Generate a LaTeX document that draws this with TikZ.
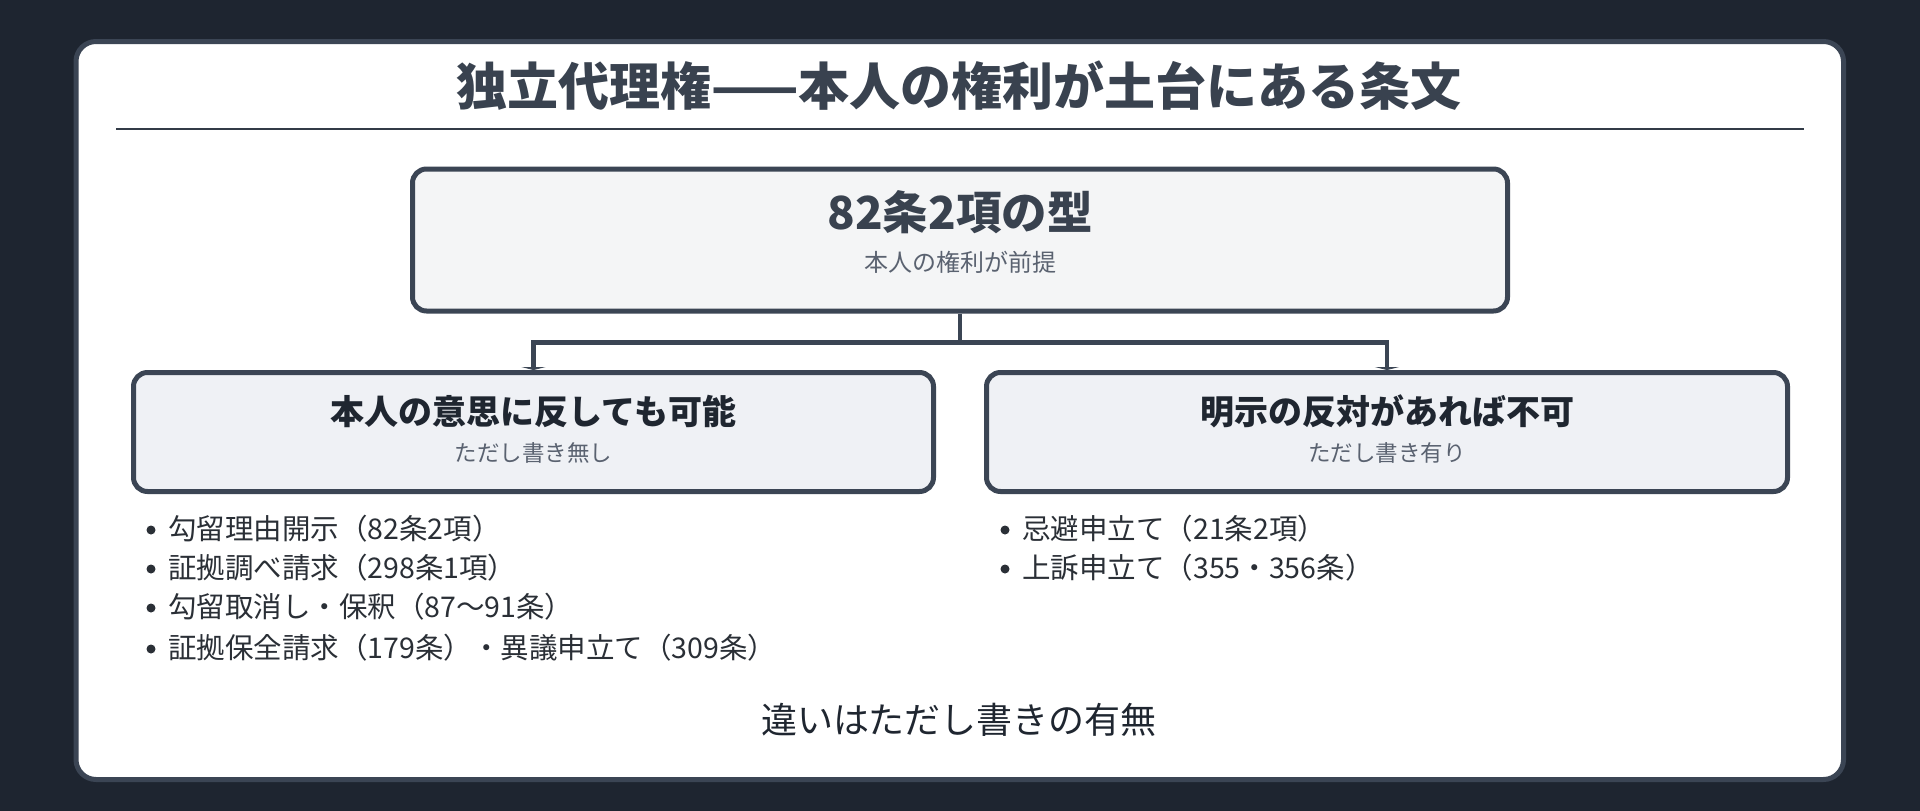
\documentclass[tikz,border=0pt]{standalone}
\usepackage{fontspec}
\setmainfont{Noto Sans CJK JP}
\usetikzlibrary{arrows.meta}
\definecolor{bgc}{HTML}{1E2530}
\definecolor{cardline}{HTML}{3B4554}
\definecolor{topfill}{HTML}{F4F5F6}
\definecolor{sidefill}{HTML}{EFF1F5}
\definecolor{titlec}{HTML}{39424F}
\definecolor{boxtext}{HTML}{1F2630}
\definecolor{subc}{HTML}{5A6270}
\definecolor{bultext}{HTML}{2A2F36}
\newcommand{\fs}[1]{\fontsize{#1}{#1}\selectfont}
\tikzset{
  boxshape/.style={draw=cardline, line width=5pt, rounded corners=14pt, inner sep=0pt},
  conn/.style={draw=cardline, line width=4.5pt},
  tip/.style={-{Triangle[length=3pt,width=24pt]}},
  bigtitle/.style={font=\fs{51}\bfseries, text=titlec, inner sep=0pt},
  boxtitle/.style={font=\fs{34}\bfseries, text=boxtext, inner sep=0pt},
  boxsub/.style={font=\fs{22.5}, text=subc, inner sep=0pt},
  bultxt/.style={anchor=west, font=\fs{28.5}, text=bultext, inner sep=0pt},
  buldot/.style={circle, fill=bultext, inner sep=0pt, minimum size=9pt},
}
\begin{document}
\begin{tikzpicture}[x=1pt,y=-1pt]
\useasboundingbox (0,0) rectangle (1920,811);
\fill[bgc] (0,0) rectangle (1920,811);
% card
\draw[draw=cardline, fill=white, line width=5pt, rounded corners=20pt] (76,41.5) rectangle (1843.5,779.5);
% title
\node[bigtitle] (title) at (959,86) {独立代理権——本人の権利が土台にある条文};
\draw[draw=cardline!85!black, line width=2.5pt] (116,129) -- (1804,129);
% boxes
\node[boxshape, fill=topfill, minimum width=1095pt, minimum height=142pt] (top) at (960,240) {};
\node[boxshape, fill=sidefill, minimum width=800pt, minimum height=119pt] (left) at (533.5,432) {};
\node[boxshape, fill=sidefill, minimum width=801pt, minimum height=119pt] (right) at (1387,432) {};
% box texts
\node[font=\fs{45.5}\bfseries, text=titlec, inner sep=0pt] (toptitle) at (960,212) {82条2項の型};
\node[boxsub, font=\fs{24}] (topsub) at (960,262) {本人の権利が前提};
\node[boxtitle] (lefttitle) at (533.5,411) {本人の意思に反しても可能};
\node[boxsub] (leftsub) at (533.5,453) {ただし書き無し};
\node[boxtitle] (righttitle) at (1387,411) {明示の反対があれば不可};
\node[boxsub] (rightsub) at (1387,453) {ただし書き有り};
% connectors
\coordinate (split) at (960,342.5);
\draw[conn] (top.south) -- (split);
\draw[conn, tip] (split) -| (left.north);
\draw[conn, tip] (split) -| (right.north);
% left bullets
\node[buldot] (ld1) at (151,530) {};
\node[bultxt] (lt1) at (168,529) {勾留理由開示（82条2項）};
\node[buldot] (ld2) at (151,569) {};
\node[bultxt] (lt2) at (168,568) {証拠調べ請求（298条1項）};
\node[buldot] (ld3) at (151,608) {};
\node[bultxt] (lt3) at (168,607) {勾留取消し・保釈（87〜91条）};
\node[buldot] (ld4) at (151,649) {};
\node[bultxt] (lt4) at (168,648) {証拠保全請求（179条）・異議申立て（309条）};
% right bullets
\node[buldot] (rd1) at (1005,530) {};
\node[bultxt] (rt1) at (1022,529) {忌避申立て（21条2項）};
\node[buldot] (rd2) at (1005,569) {};
\node[bultxt] (rt2) at (1022,568) {上訴申立て（355・356条）};
% bottom
\node[font=\fs{36}, text=boxtext, inner sep=0pt] (bottom) at (959,720) {違いはただし書きの有無};
\end{tikzpicture}
\end{document}
